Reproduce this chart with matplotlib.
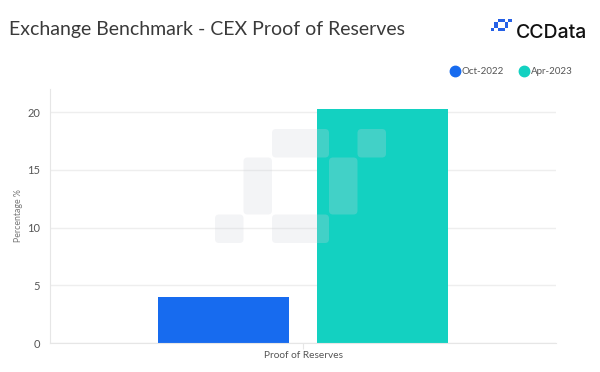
import matplotlib
matplotlib.use("Agg")
import matplotlib.pyplot as plt
from matplotlib.patches import FancyBboxPatch, Rectangle
from matplotlib.lines import Line2D
import matplotlib.transforms as mtransforms

# ---- data ----
categories = ["Proof of Reserves"]
series_names = ["Oct-2022", "Apr-2023"]
values_oct2022 = [4.0]
values_apr2023 = [20.3]
y_ticks = [0, 5, 10, 15, 20]

colors = ["#176BEF", "#13D1C1"]
FONT = ["Lato", "DejaVu Sans"]
plt.rcParams["font.family"] = FONT

W, H = 600, 372
fig = plt.figure(figsize=(W / 100, H / 100), dpi=100)
fig.patch.set_facecolor("white")

ax = fig.add_axes([50 / W, 1 - 343 / H, 506 / W, (343 - 89) / H])
ax.set_facecolor("white")

x = list(range(len(categories)))
bw = 0.258
off = 0.157
ax.bar([xi - off for xi in x], values_oct2022, width=bw, color=colors[0], zorder=2)
ax.bar([xi + off for xi in x], values_apr2023, width=bw, color=colors[1], zorder=2)

ax.set_xlim(-0.5, 0.5)
ax.set_ylim(0, 22)
ax.set_yticks(y_ticks)
ax.set_yticklabels([str(v) for v in y_ticks], fontsize=8, color="#555555")
ax.set_xticks(x)
ax.set_xticklabels(categories, fontsize=7.3, color="#555555")
ax.tick_params(axis="y", length=0, pad=7)
ax.tick_params(axis="x", length=4, color="#e6e6e6", pad=2)
ax.grid(axis="y", color="#eeeeee", linewidth=1, zorder=0)
for s in ["top", "right"]:
    ax.spines[s].set_visible(False)
ax.spines["left"].set_color("#e6e6e6")
ax.spines["bottom"].set_color("#e6e6e6")
ax.set_ylabel("Percentage %", fontsize=6.3, color="#777777")
ax.yaxis.set_label_coords(-27 / 506, 0.5)

# ---- watermark (logo shape) in pixel coordinates ----
ident = mtransforms.IdentityTransform()
cell = 28.5
x0, y0 = 215, 129
shapes = [  # (col, row, ncols, nrows)
    (2, 0, 2, 1), (5, 0, 1, 1),
    (1, 1, 1, 2), (4, 1, 1, 2),
    (0, 3, 1, 1), (2, 3, 2, 1),
]
for c, r, nc, nr in shapes:
    left = x0 + c * cell
    top = y0 + r * cell
    p = FancyBboxPatch((left, H - top - nr * cell), nc * cell, nr * cell,
                       boxstyle="round,pad=0,rounding_size=4",
                       transform=ident, facecolor="#d0d4dc", edgecolor="none",
                       alpha=0.25, zorder=5)
    fig.add_artist(p)

# ---- title ----
fig.text(9 / W, 1 - 30 / H, "Exchange Benchmark - CEX Proof of Reserves",
         fontsize=14, color="#3a3a3a", va="center", ha="left")

# ---- CCData logo ----
icw, ich = 3.5, 3.1
ix0, iy0 = 490.5, 18.5
for c, r, nc, nr in shapes:
    left = ix0 + c * icw
    top = iy0 + r * ich
    fig.add_artist(Rectangle((left, H - top - nr * ich), nc * icw,
                             nr * ich, transform=ident,
                             facecolor="#2560e6", edgecolor="none"))
fig.text(516 / W, 1 - 33 / H, "CCData", fontsize=14, fontweight="medium",
         family=["Inter", "DejaVu Sans"], color="#111111", va="center", ha="left")

# ---- legend (manual placement) ----
leg_x = [455, 524]
leg_y = 71
for i, name in enumerate(series_names):
    fig.add_artist(Line2D([leg_x[i] / W], [1 - leg_y / H], marker="o", linestyle="none",
                          markersize=7.5, markerfacecolor=colors[i],
                          markeredgecolor=colors[i], transform=fig.transFigure))
    fig.text((leg_x[i] + 6.5) / W, 1 - leg_y / H, name, fontsize=7, color="#555555",
             va="center", ha="left")

fig.savefig("out.png", dpi=100, facecolor="white")
